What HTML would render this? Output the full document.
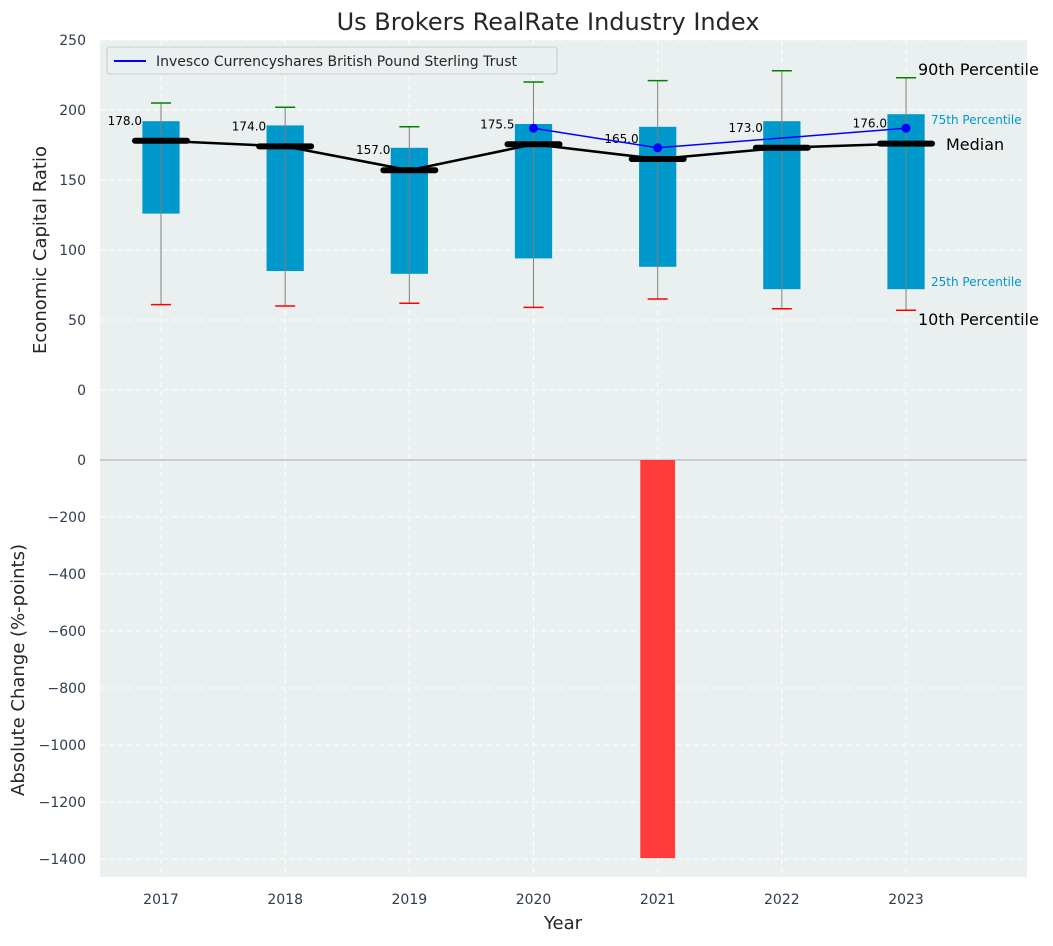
<!DOCTYPE html>
<html><head><meta charset="utf-8"><style>
body{margin:0;background:#fff;font-family:"DejaVu Sans","Liberation Sans",sans-serif;}
svg text{font-family:"DejaVu Sans","Liberation Sans",sans-serif;}
</style></head><body>
<svg id="chart" width="1053" height="942" xmlns="http://www.w3.org/2000/svg">
<text x="548" y="30" text-anchor="middle" font-size="24" fill="#262626">Us Brokers RealRate Industry Index</text>
<rect x="100" y="40" width="927" height="420" fill="#eaeff0"/>
<rect x="100" y="460" width="927" height="417" fill="#eaeff0"/>
<g id="grid"></g>
<g id="marks"></g>
<text x="46" y="250" transform="rotate(-90 46 250)" text-anchor="middle" font-size="18" fill="#262626">Economic Capital Ratio</text>
<text x="24" y="670" transform="rotate(-90 24 670)" text-anchor="middle" font-size="18" fill="#262626">Absolute Change (%-points)</text>
<text x="563" y="929" text-anchor="middle" font-size="18" fill="#262626">Year</text>
<g>
<rect x="107" y="47" width="450" height="27" rx="3" fill="#eaeff0" stroke="#cccccc"/>
<line x1="114" y1="61" x2="146" y2="61" stroke="#0000ff" stroke-width="2"/>
<text x="156" y="66" font-size="14" fill="#262626">Invesco Currencyshares British Pound Sterling Trust</text>
</g>
<text x="918" y="75" font-size="16" fill="#000">90th Percentile</text>
<text x="931" y="124" font-size="12" fill="#0099cc">75th Percentile</text>
<text x="946" y="150" font-size="16" fill="#000">Median</text>
<text x="931" y="286" font-size="12" fill="#0099cc">25th Percentile</text>
<text x="918" y="325" font-size="16" fill="#000">10th Percentile</text>
</svg>
<script>
const years=[2017,2018,2019,2020,2021,2022,2023];
const p10=[61,60,62,59,65,58,57];
const p25=[126,85,83,94,88,72,72];
const median=[178,174,157,175.5,165,173,176];
const p75=[192,189,173,190,188,192,197];
const p90=[205,202,188,220,221,228,223];
const fund=[null,null,null,187,173,null,187];
const change=[0,0,0,0,-1397,0,0];
const topTicks=[0,50,100,150,200,250];
const botTicks=[0,-200,-400,-600,-800,-1000,-1200,-1400];

const NS="http://www.w3.org/2000/svg";
const xS=y=>161+(y-2017)*124.17;
const yT=v=>390-v*1.4;
function yb(v){return 460+(-v)*0.285;}
function fmt(t){return t<0?'\u2212'+Math.abs(t):String(t);}
function mk(tag,attrs,parent,txt){const e=document.createElementNS(NS,tag);for(const k in attrs)e.setAttribute(k,attrs[k]);if(txt!==undefined)e.textContent=txt;parent.appendChild(e);return e;}
const grid=document.getElementById('grid'),marks=document.getElementById('marks');
topTicks.forEach(t=>{const y=yT(t);
 const l=mk('line',{x1:100,x2:1027,y1:y,y2:y,stroke:'#ffffff','stroke-dasharray':'5,4'},grid);
 
 
 const tx=mk('text',{x:86,y:y+5,'text-anchor':'end','font-size':14,fill:'#2d3d50'},grid,fmt(t));
 
 });
botTicks.forEach(t=>{const y=yb(t);
 const l=mk('line',{x1:100,x2:1027,y1:y,y2:y,stroke:t===0?'#aaaaaa':'#ffffff','stroke-dasharray':t===0?'':'5,4'},grid);
 
 
 const tx=mk('text',{x:86,y:y+5,'text-anchor':'end','font-size':14,fill:'#2d3d50'},grid,fmt(t));
 
 });
years.forEach((yr,i)=>{const x=xS(yr);
 const l=mk('line',{x1:x,x2:x,y1:40,y2:877,stroke:'#ffffff','stroke-dasharray':'5,4'},grid);
 
 
 const tx=mk('text',{x:x,y:904,'text-anchor':'middle','font-size':14,fill:'#2d3d50'},grid,yr);
 
 
 const w=0.3*124.17;
 const box=mk('rect',{x:x-w/2,y:yT(p75[i]),width:w,height:yT(p25[i])-yT(p75[i]),fill:'#0099cc'},marks);
 
 
 const wh=mk('line',{x1:x,x2:x,y1:yT(p90[i]),y2:yT(p10[i]),stroke:'#808080','stroke-width':1},marks);
 
 
 const c9=mk('line',{x1:x-10,x2:x+10,y1:yT(p90[i]),y2:yT(p90[i]),stroke:'#008000','stroke-width':1.5},marks);
 
 
 const c1=mk('line',{x1:x-10,x2:x+10,y1:yT(p10[i]),y2:yT(p10[i]),stroke:'#ff0000','stroke-width':1.5},marks);
 
 
 const md=mk('line',{x1:x-26,x2:x+26,y1:yT(median[i]),y2:yT(median[i]),stroke:'#000','stroke-width':6,'stroke-linecap':'round'},marks);
 
 
 const lb=mk('text',{x:x-19,y:yT(median[i])-16,'text-anchor':'end','font-size':12,fill:'#000'},marks,median[i].toFixed(1));
 
 
 if(change[i]!==0){const bw=0.28*124.17;
  const b=mk('rect',{x:x-bw/2,y:Math.min(yb(0),yb(change[i])),width:bw,height:Math.abs(yb(change[i])-yb(0)),fill:'#ff3b3b'},marks);
  
  }
});
const ml=mk('polyline',{points:years.map((y,i)=>xS(y)+','+yT(median[i])).join(' '),fill:'none',stroke:'#000','stroke-width':2.5},marks);


const fp=years.map((y,i)=>fund[i]==null?null:xS(y)+','+yT(fund[i])).filter(p=>p);
const fl=mk('polyline',{points:fp.join(' '),fill:'none',stroke:'#0000ff','stroke-width':1.5},marks);


years.forEach((y,i)=>{if(fund[i]==null)return;
 const d=mk('circle',{cx:xS(y),cy:yT(fund[i]),r:4.5,fill:'#0000ff'},marks);
 
 });
</script>
</body></html>
